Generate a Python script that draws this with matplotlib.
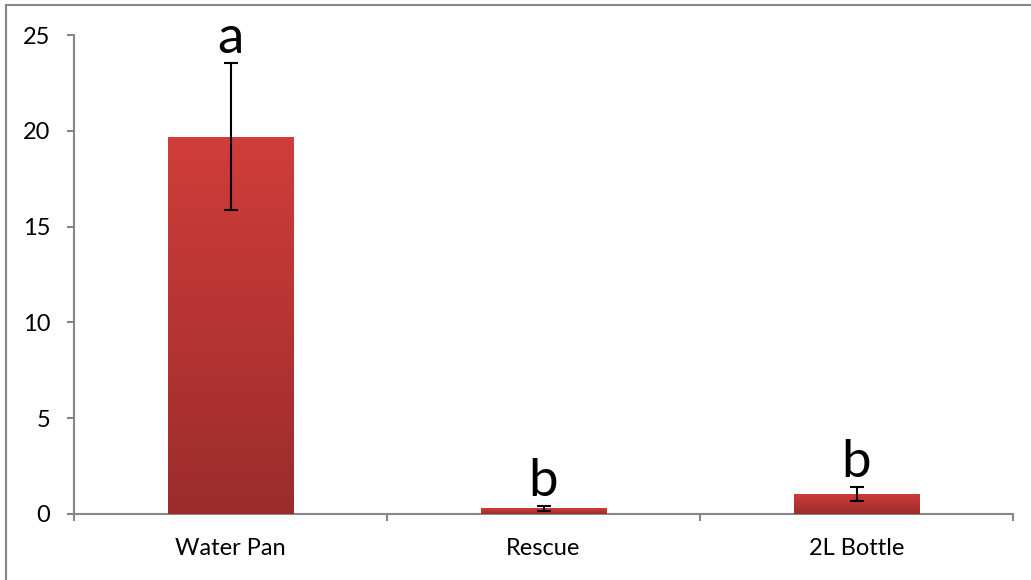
import numpy as np
import matplotlib
matplotlib.use("Agg")
import matplotlib.pyplot as plt
from matplotlib.lines import Line2D

categories = ["Water Pan", "Rescue", "2L Bottle"]
values = [19.7, 0.3, 1.05]
errors = [3.85, 0.13, 0.35]
letters = ["a", "b", "b"]

plt.rcParams['font.family'] = ['Lato', 'DejaVu Sans']

W, H = 1031, 580
fig = plt.figure(figsize=(W / 100, H / 100), dpi=100)
ax = fig.add_axes([74 / W, 1 - 514 / H, (1013 - 74) / W, (514 - 35) / H])

x = np.arange(len(categories))
bw = 0.4
bars = ax.bar(x, values, width=bw, color="#c0383a", zorder=2)

# gradient fill for each bar (light red top -> dark red bottom)
grad = np.linspace(0, 1, 256).reshape(-1, 1)
cmap = matplotlib.colors.LinearSegmentedColormap.from_list("g", ["#d03d3a", "#9b2c2c"])
for b in bars:
    x0, y0 = b.get_x(), b.get_y()
    w, h = b.get_width(), b.get_height()
    im = ax.imshow(grad, cmap=cmap, aspect="auto", extent=[x0, x0 + w, y0, y0 + h],
                   origin="upper", zorder=3)
    im.set_clip_path(b)

ax.errorbar(x, values, yerr=errors, fmt="none", ecolor="black", elinewidth=1.5,
            capsize=5, capthick=1.5, zorder=4)

for xi, v, e, t in zip(x, values, errors, letters):
    ax.annotate(t, (xi, v + e), xytext=(0, 7), textcoords="offset points",
                ha="center", va="baseline", fontsize=38)

ax.set_xlim(-0.5, 2.5)
ax.set_ylim(0, 25)
ax.set_yticks([0, 5, 10, 15, 20, 25])
ax.set_xticks(x)
ax.set_xticklabels(categories)
ax.set_xticks([-0.5, 0.5, 1.5, 2.5], minor=True)
ax.tick_params(axis="x", which="major", length=0, pad=17, labelsize=17)
ax.tick_params(axis="x", which="minor", length=5, color="#868686", width=1.5)
ax.tick_params(axis="y", length=5, color="#868686", width=1.5, labelsize=17, pad=12)

for s in ["top", "right"]:
    ax.spines[s].set_visible(False)
for s in ["left", "bottom"]:
    ax.spines[s].set_color("#868686")
    ax.spines[s].set_linewidth(1.5)

# outer chart frame (top and left edges visible)
fig.add_artist(Line2D([6 / W, 1], [1 - 5 / H, 1 - 5 / H], color="#868686", lw=1.5))
fig.add_artist(Line2D([6 / W, 6 / W], [0, 1 - 5 / H], color="#868686", lw=1.5))

fig.savefig("out.png", dpi=100)
